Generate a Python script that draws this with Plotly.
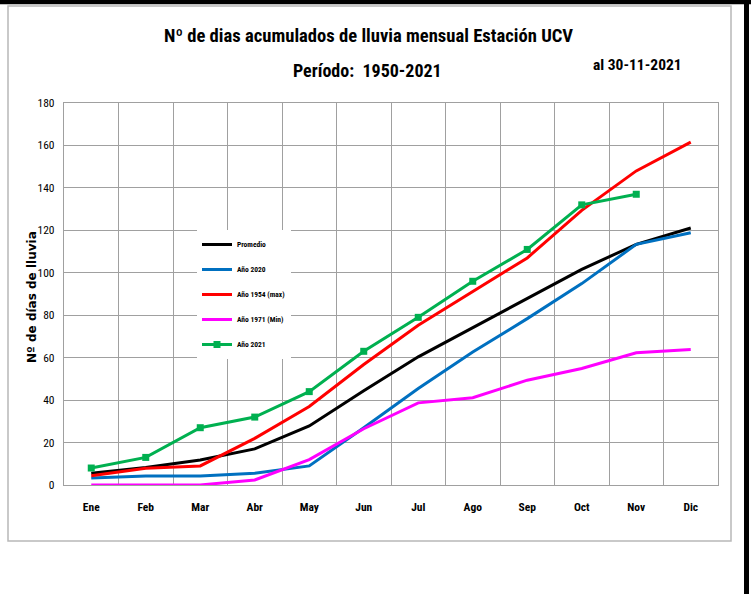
import plotly.graph_objects as go

months = ["Ene", "Feb", "Mar", "Abr", "May", "Jun", "Jul", "Ago", "Sep", "Oct", "Nov", "Dic"]
promedio = [5.5, 8.3, 11.8, 17, 27.8, 44.4, 60.4, 74.2, 87.8, 101.6, 113.4, 121.1]
anio_2020 = [3.3, 4.2, 4.2, 5.5, 9, 27, 45.5, 62.7, 78.4, 94.9, 113.4, 118.9]
anio_1954 = [4.4, 7.9, 9, 22, 37, 56.8, 75.3, 91.3, 107, 129.4, 148, 161.6]
anio_1971 = [0, 0, 0, 2.4, 12, 26.5, 38.7, 41.1, 49.4, 54.9, 62.3, 63.8]
anio_2021 = [8, 13, 27, 32, 44, 63, 79, 96, 111, 132, 137]

y_ticks = [0, 20, 40, 60, 80, 100, 120, 140, 160, 180]

FONT = "Roboto Condensed, Roboto, Liberation Sans, sans-serif"

fig = go.Figure()
series = [
    ("Promedio", promedio, "#000000", False),
    ("Año 2020", anio_2020, "#0070C0", False),
    ("Año 1954 (max)", anio_1954, "#FF0000", False),
    ("Año 1971 (Min)", anio_1971, "#FF00FF", False),
    ("Año 2021", anio_2021, "#00B050", True),
]
for name, vals, color, mk in series:
    fig.add_trace(go.Scatter(
        x=months[:len(vals)], y=vals, name=name, legendgroup=name,
        mode="lines+markers" if mk else "lines",
        line=dict(color=color, width=3),
        marker=dict(symbol="square", size=7, color=color),
    ))

L, R, T, B = 64, 718, 103, 485
W, H = 751, 594

def px(x):
    return (x - L) / (R - L)

def py(y):
    return (B - y) / (B - T)

fig.update_layout(
    width=W, height=H,
    margin=dict(l=L, r=W - R, t=T, b=H - B, pad=0),
    paper_bgcolor="white", plot_bgcolor="white",
    showlegend=True,
    legend=dict(
        x=px(197), y=py(230), xanchor="left", yanchor="top",
        bgcolor="white", borderwidth=0,
        font=dict(family=FONT, size=7.5, color="black", weight="bold"),
        tracegroupgap=6, itemwidth=30, traceorder="grouped",
    ),
    xaxis=dict(
        type="category", categoryorder="array", categoryarray=months,
        range=[-0.5, 11.5], tickson="boundaries", automargin=False,
        showgrid=True, gridcolor="#a0a0a0", gridwidth=1.3,
        showline=True, linecolor="#a0a0a0", linewidth=1.3, mirror=True,
        ticks="", ticklabelstandoff=11,
        tickfont=dict(family=FONT, size=11.5, color="black", weight="bold"),
        fixedrange=True,
    ),
    yaxis=dict(
        range=[0, 180], tickvals=y_ticks, automargin=False,
        showgrid=True, gridcolor="#a0a0a0", gridwidth=1.3,
        showline=True, linecolor="#a0a0a0", linewidth=1.3, mirror=True,
        ticks="", ticklabelstandoff=6, zeroline=False,
        tickfont=dict(family=FONT, size=11.5, color="black"),
        fixedrange=True,
    ),
    annotations=[
        dict(text="Nº de dias acumulados de lluvia mensual Estación UCV", xref="paper", yref="paper",
             x=px(368), y=py(36), xanchor="center", yanchor="middle", showarrow=False,
             font=dict(family=FONT, size=18.6, color="black", weight="bold")),
        dict(text="Período:  1950-2021", xref="paper", yref="paper",
             x=px(367), y=py(70), xanchor="center", yanchor="middle", showarrow=False,
             font=dict(family=FONT, size=18, color="black", weight="bold")),
        dict(text="al 30-11-2021", xref="paper", yref="paper",
             x=px(637), y=py(65), xanchor="center", yanchor="middle", showarrow=False,
             font=dict(family=FONT, size=15.5, color="black", weight="bold")),
        dict(text="Nº de días de lluvia", xref="paper", yref="paper", textangle=-90,
             x=px(32), y=py(297), xanchor="center", yanchor="middle", showarrow=False,
             font=dict(family="DejaVu Sans, sans-serif", size=12, color="black", weight="bold")),
    ],
    shapes=[
        dict(type="rect", xref="paper", yref="paper", x0=px(8), x1=px(731), y0=py(541), y1=py(6),
             line=dict(color="#b8b8b8", width=1.5), layer="below"),
        dict(type="line", xref="paper", yref="paper", x0=px(0), x1=px(751), y0=py(2), y1=py(2),
             line=dict(color="black", width=4.5), layer="above"),
        dict(type="rect", xref="paper", yref="paper", x0=px(744), x1=px(749), y0=py(600), y1=py(-10),
             line=dict(width=0), fillcolor="black"),
    ],
)

fig.write_html("out.html", config={"displayModeBar": False},
               post_script="document.body.style.margin='0px'; document.body.style.overflow='hidden';")
